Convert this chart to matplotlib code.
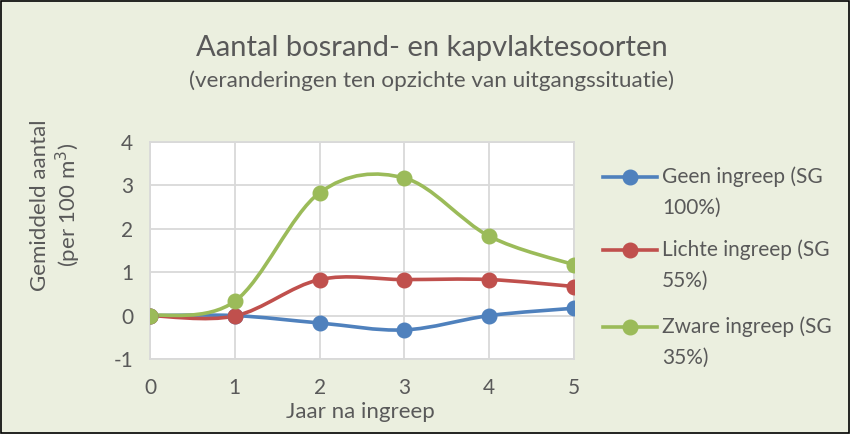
import matplotlib
matplotlib.use("Agg")
import matplotlib.pyplot as plt
from matplotlib.path import Path
from matplotlib.patches import PathPatch, Rectangle
from matplotlib.lines import Line2D
import numpy as np

years = [0, 1, 2, 3, 4, 5]
geen = [0, 0, -0.17, -0.33, 0.0, 0.17]
lichte = [0, -0.01, 0.83, 0.83, 0.83, 0.67]
zware = [0, 0.33, 2.83, 3.17, 1.83, 1.17]
labels = ["Geen ingreep (SG\n100%)", "Lichte ingreep (SG\n55%)", "Zware ingreep (SG\n35%)"]
colors = ["#4F81BD", "#C0504D", "#9BBB59"]
yticks = [-1, 0, 1, 2, 3, 4]

plt.rcParams['font.family'] = ['Lato', 'DejaVu Sans']
plt.rcParams['axes.unicode_minus'] = False
txt = "#595959"
bg = "#EBEFDF"

fig = plt.figure(figsize=(8.5, 4.34), dpi=100, facecolor=bg)
fig.patches.append(Rectangle((0.0015, 0.002), 0.997, 0.996, transform=fig.transFigure,
                             fill=False, edgecolor="black", linewidth=1.2))
ax = fig.add_axes([150/850, 1-359/434, 424/850, 217/434])
ax.set_facecolor("white")


def smooth_path(xs, ys):
    x = np.array(xs, float)
    y = np.array(ys, float)
    n = len(x)
    verts = [(x[0], y[0])]
    codes = [Path.MOVETO]
    for i in range(n - 1):
        p0 = np.array([x[max(i-1, 0)], y[max(i-1, 0)]])
        p1 = np.array([x[i], y[i]])
        p2 = np.array([x[i+1], y[i+1]])
        p3 = np.array([x[min(i+2, n-1)], y[min(i+2, n-1)]])
        c1 = p1 + (p2 - p0) / 6.0
        c2 = p2 - (p3 - p1) / 6.0
        verts += [tuple(c1), tuple(c2), tuple(p2)]
        codes += [Path.CURVE4] * 3
    return Path(verts, codes)


for vals, c, lab in zip([geen, lichte, zware], colors, labels):
    ax.add_patch(PathPatch(smooth_path(years, vals), facecolor="none", edgecolor=c,
                           linewidth=2.6, zorder=3, capstyle="round", joinstyle="round"))
    ax.plot(years, vals, linestyle="none", marker="o", markersize=10.5, color=c, zorder=4)

ax.set_xlim(0, 5)
ax.set_ylim(-1, 4)
ax.set_xticks(years)
ax.set_yticks(yticks)
ax.grid(True, color="#D9D9D9", linewidth=1.3)
ax.set_axisbelow(True)
for s in ax.spines.values():
    s.set_color("#D9D9D9")
    s.set_linewidth(1.3)
ax.tick_params(length=0, labelsize=15, colors=txt, pad=12)
ax.tick_params(axis='x', pad=14)
for lab in ax.get_xticklabels() + ax.get_yticklabels():
    lab.set_color(txt)

fig.text(360/850, 1-412/434, "Jaar na ingreep", ha="center", va="center", fontsize=16, color=txt)
fig.text(40/850, 1-205/434, "Gemiddeld aantal", ha="center", va="center", rotation=90,
         fontsize=16, color=txt)
fig.text(68/850, 1-205/434, "(per 100 m$^3$)", ha="center", va="center", rotation=90,
         fontsize=16, color=txt)

fig.text(432/850, 1-48/434, "Aantal bosrand- en kapvlaktesoorten", ha="center", va="center",
         fontsize=21, color=txt)
fig.text(432/850, 1-81/434, "(veranderingen ten opzichte van uitgangssituatie)", ha="center",
         va="center", fontsize=16.2, color=txt)

# legend drawn manually so the handle aligns with the first text line
leg_y = [177, 250, 327]
for c, lab, yy in zip(colors, labels, leg_y):
    yf = 1 - yy/434
    fig.add_artist(Line2D([603/850, 657/850], [yf, yf], transform=fig.transFigure,
                          color=c, linewidth=2.6))
    fig.add_artist(Line2D([630/850], [yf], transform=fig.transFigure, color=c,
                          marker="o", markersize=10.5, linestyle="none"))
    for k, line in enumerate(lab.split("\n")):
        fig.text(662/850, 1 - (yy + 31*k)/434, line, ha="left", va="center",
                 fontsize=15, color=txt)

fig.savefig("out.png", dpi=100, facecolor=bg)
